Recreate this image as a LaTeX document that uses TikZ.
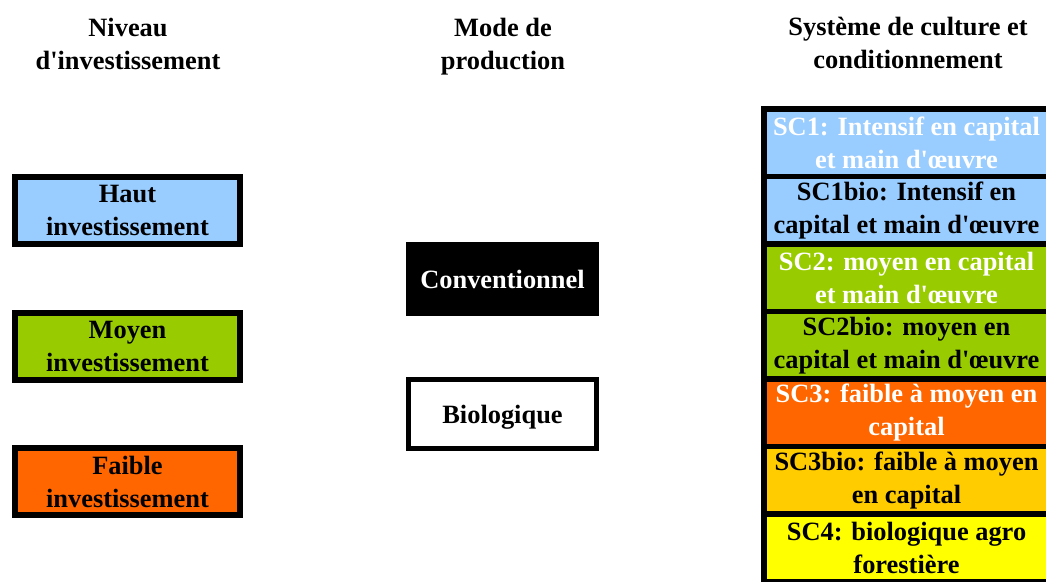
\documentclass[tikz,border=0pt]{standalone}
\usepackage{fontspec}
\setmainfont{Liberation Serif}
\usetikzlibrary{positioning}
\definecolor{bleuclair}{HTML}{99CCFF}
\definecolor{vertolive}{HTML}{99CC00}
\definecolor{orangevif}{HTML}{FF6600}
\definecolor{orangeor}{HTML}{FFCC00}
\definecolor{jaunevif}{HTML}{FFFF00}
\newcommand{\apo}{\textquotesingle}

\begin{document}
\begin{tikzpicture}[x=1pt, y=-1pt,
  txt/.style={font=\fontsize{26.4}{33}\selectfont\bfseries, align=center},
  boxtxt/.style={txt, execute at begin node={\rule{0pt}{23.5pt}}},
  invbox/.style={boxtxt, draw=black, line width=6pt, minimum width=225pt, minimum height=67pt, inner sep=0pt, outer sep=0pt},
  modebox/.style={txt, draw=black, line width=5pt, minimum width=188pt, minimum height=69pt, inner sep=0pt, outer sep=0pt, text depth=0pt},
  scbox/.style={boxtxt, draw=black, line width=5.5pt, minimum width=285pt, minimum height=67.5pt, inner sep=0pt, outer sep=0pt}]
  \useasboundingbox (0,0) rectangle (1046,581);

  % column headers
  \node[txt] (hniveau) at (128,43.5) {Niveau\\d\apo{}investissement};
  \node[txt] (hmode) at (503,46.5) {Mode de\\production};
  \node[txt] (hsysteme) at (908,43) {Système de culture et\\conditionnement};

  % investment levels
  \node[invbox, fill=bleuclair] (hautinv) at (127.5,210.5) {Haut\\investissement};
  \node[invbox, fill=vertolive, below=68.5pt of hautinv] (moyeninv) {Moyen\\investissement};
  \node[invbox, fill=orangevif, below=68.5pt of moyeninv] (faibleinv) {Faible\\investissement};

  % production modes
  \node[modebox, fill=black, text=white] (conv) at (502.5,279) {Conventionnel};
  \node[modebox, fill=white, below=66pt of conv] (bio) {Biologique};

  % cropping systems
  \node[scbox, fill=bleuclair, text=white] (sc1) at (906.5,142.75) {SC1: Intensif en capital\\et main d\apo{}œuvre};
  \node[scbox, fill=bleuclair, below=0pt of sc1] (sc1bio) {SC1bio: Intensif en\\capital et main d\apo{}œuvre};
  \node[scbox, fill=vertolive, text=white, below=0pt of sc1bio] (sc2) {SC2: moyen en capital\\et main d\apo{}œuvre};
  \node[scbox, fill=vertolive, below=0pt of sc2] (sc2bio) {SC2bio: moyen en\\capital et main d\apo{}œuvre};
  \node[scbox, fill=orangevif, text=white, below=0pt of sc2bio] (sc3) {SC3: faible à moyen en\\capital};
  \node[scbox, fill=orangeor, below=0pt of sc3] (sc3bio) {SC3bio: faible à moyen\\en capital};
  \node[scbox, fill=jaunevif, below=0pt of sc3bio] (sc4) {SC4: biologique agro\\forestière};
\end{tikzpicture}
\end{document}
